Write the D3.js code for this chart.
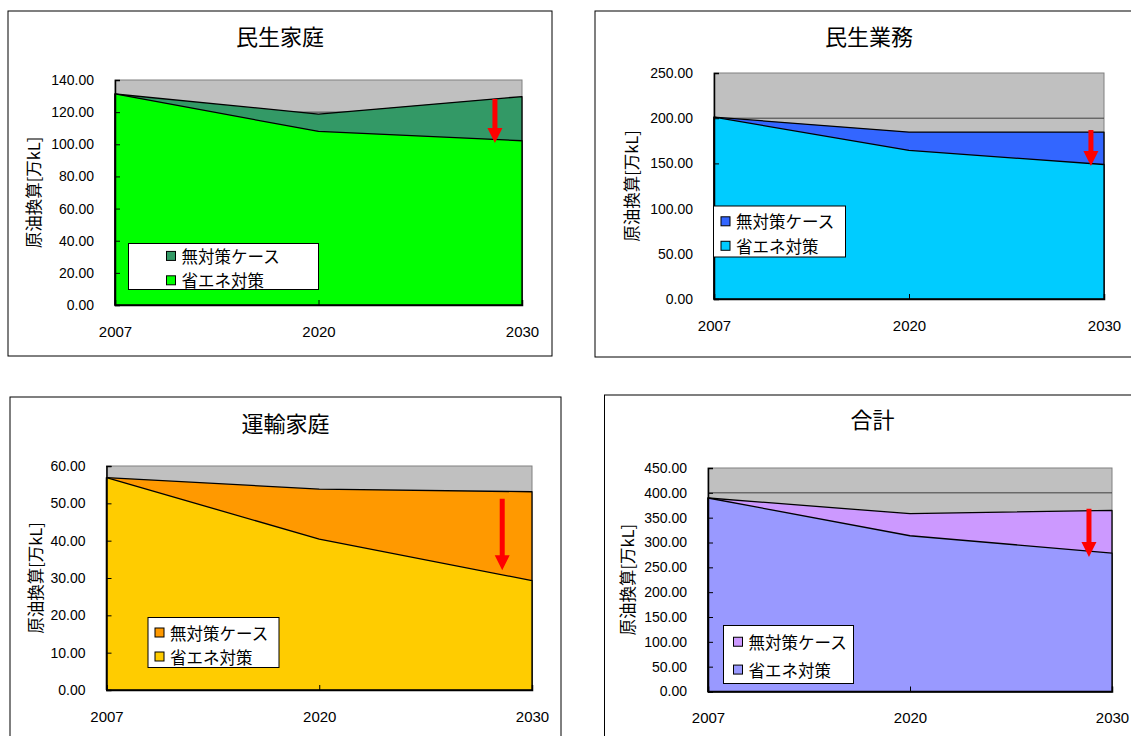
<!DOCTYPE html>
<html>
<head>
<meta charset="utf-8">
<script src="https://cdn.jsdelivr.net/npm/d3@7"></script>
<style>
  body { margin: 0; background: #fff; }
  svg { display: block; }
  .tick text { font-family: "Liberation Sans", Arial, sans-serif; font-size: 14px; fill: #000; }
  .x-axis .tick text { font-size: 15px; }
  .jp { font-family: "Noto Sans CJK JP", sans-serif; fill: #000; }
</style>
</head>
<body>
<svg id="chart" width="1131" height="736"></svg>
<script>
// Values (万kL, crude oil equivalent).
const years = ['2007', '2020', '2030'];
const titles = ['民生家庭', '民生業務', '運輸家庭', '合計'];
const seriesNames = ['無対策ケース', '省エネ対策'];
const noMeasures = [
  [131.3, 118.8, 129.7],
  [201.2, 184.6, 184.6],
  [56.9, 53.8, 53.1],
  [389.6, 358.0, 364.6]
];
const savings = [
  [131.3, 108.0, 102.2],
  [201.2, 164.3, 148.8],
  [56.9, 40.4, 29.3],
  [389.6, 313.6, 278.8]
];
const yMax = [140, 250, 60, 450];
const yStep = [20, 50, 10, 50];
// Red arrows: [position between 2020 and 2030, value from, value to]
const arrows = [
  [0.867, 128.2, 100.8],
  [0.933, 187, 147],
  [0.86, 51.2, 32.1],
  [0.886, 368, 271]
];

// Colours per panel: [no measures, savings]
const colors = [
  ['#339966', '#00ff00'],
  ['#3366ff', '#00ccff'],
  ['#ff9900', '#ffcc00'],
  ['#cc99ff', '#9999ff']
];

// Layout of each panel (pixels).
const layout = [
  { panel: [8, 11, 544, 345], plot: [115, 522, 80, 305], titleY: 35, yTitleOff: 82, legend: [128.5, 243.5, 190, 46], sw: 38, rows: [0.27, 0.8] },
  { panel: [595, 11, 548, 346], plot: [714, 1104, 73, 299], titleY: 35, yTitleOff: 83, legend: [713.5, 206, 132, 51], sw: 7.5, rows: [0.3, 0.78] },
  { panel: [10, 397, 551, 360], plot: [106.5, 532, 466, 690], titleY: 422, yTitleOff: 72, legend: [148, 617.5, 131, 50], sw: 7, rows: [0.3, 0.78] },
  { panel: [604.5, 395, 536, 360], plot: [708, 1112, 468, 691.5], titleY: 418, yTitleOff: 81, legend: [723.5, 625.5, 130, 58], sw: 10, rows: [0.28, 0.76] }
];

const svg = d3.select('#chart');

titles.forEach((title, i) => {
  const L = layout[i];
  const [pl, pr, pt, pb] = L.plot;
  const g = svg.append('g');

  // Panel frame
  g.append('rect')
    .attr('x', L.panel[0]).attr('y', L.panel[1])
    .attr('width', L.panel[2]).attr('height', L.panel[3])
    .attr('fill', '#fff').attr('stroke', '#000').attr('stroke-width', 1);

  g.append('text').attr('class', 'jp')
    .attr('x', L.panel[0] + L.panel[2] / 2).attr('y', L.titleY)
    .attr('text-anchor', 'middle').attr('dominant-baseline', 'central')
    .attr('font-size', 22)
    .text(title);

  const x = d3.scalePoint().domain(years).range([pl, pr]).padding(0);
  const y = d3.scaleLinear().domain([0, yMax[i]]).range([pb, pt]);
  const ticks = d3.range(0, yMax[i] + yStep[i] / 2, yStep[i]);

  // Plot area
  g.append('rect')
    .attr('x', pl).attr('y', pt).attr('width', pr - pl).attr('height', pb - pt)
    .attr('fill', '#c0c0c0').attr('stroke', '#808080').attr('stroke-width', 1);

  g.append('g').selectAll('line')
    .data(ticks.filter(t => t > 0 && t < yMax[i]))
    .join('line')
    .attr('x1', pl).attr('x2', pr)
    .attr('y1', d => y(d)).attr('y2', d => y(d))
    .attr('stroke', '#404040').attr('stroke-width', 1);

  const area = d3.area()
    .x((d, j) => x(years[j]))
    .y0(pb)
    .y1(d => y(d));

  [noMeasures[i], savings[i]].forEach((vals, s) => {
    g.append('path')
      .datum(vals)
      .attr('d', area)
      .attr('fill', colors[i][s])
      .attr('stroke', '#000').attr('stroke-width', 1.3)
      .attr('stroke-linejoin', 'round');
  });

  // Axes
  const yAxis = d3.axisLeft(y).tickValues(ticks).tickFormat(d3.format('.2f'))
    .tickSize(-5).tickPadding(21);
  const ya = g.append('g').attr('transform', `translate(${pl},0)`).call(yAxis);
  ya.select('.domain').attr('stroke', '#000').attr('stroke-width', 1.5);
  ya.selectAll('.tick line').attr('stroke', '#000');

  const xAxis = d3.axisBottom(x).tickSize(-5).tickPadding(21);
  const xa = g.append('g').attr('class', 'x-axis').attr('transform', `translate(0,${pb})`).call(xAxis);
  xa.select('.domain').attr('stroke', '#000').attr('stroke-width', 1.5);
  xa.selectAll('.tick line').attr('stroke', '#000');

  // Y axis title
  const yc = (pt + pb) / 2;
  g.append('text').attr('class', 'jp')
    .attr('transform', `translate(${pl - L.yTitleOff},${yc}) rotate(-90)`)
    .attr('text-anchor', 'middle').attr('dominant-baseline', 'central')
    .attr('font-size', 16.5)
    .text('原油換算[万kL]');

  // Red arrow
  const [f, v0, v1] = arrows[i];
  const ax = x('2020') + f * (x('2030') - x('2020'));
  const y0 = y(v0), y1 = y(v1);
  const hw = 7.5, sw = 2.5, hl = 15;
  g.append('path')
    .attr('d', `M${ax - sw},${y0} L${ax + sw},${y0} L${ax + sw},${y1 - hl} L${ax + hw},${y1 - hl} L${ax},${y1} L${ax - hw},${y1 - hl} L${ax - sw},${y1 - hl} Z`)
    .attr('fill', '#ff0000');

  // Legend
  const [lx, ly, lw, lh] = L.legend;
  const lg = g.append('g');
  lg.append('rect').attr('x', lx).attr('y', ly).attr('width', lw).attr('height', lh)
    .attr('fill', '#fff').attr('stroke', '#000').attr('stroke-width', 1);
  seriesNames.forEach((name, s) => {
    const cy = ly + lh * L.rows[s];
    const sx = lx + L.sw;
    lg.append('rect').attr('x', sx).attr('y', cy - 4.5).attr('width', 9).attr('height', 9)
      .attr('fill', colors[i][s]).attr('stroke', '#000').attr('stroke-width', 1);
    lg.append('text').attr('class', 'jp')
      .attr('x', sx + 15).attr('y', cy)
      .attr('dominant-baseline', 'central')
      .attr('font-size', 16.5)
      .text(name);
  });
});
</script>
</body>
</html>
